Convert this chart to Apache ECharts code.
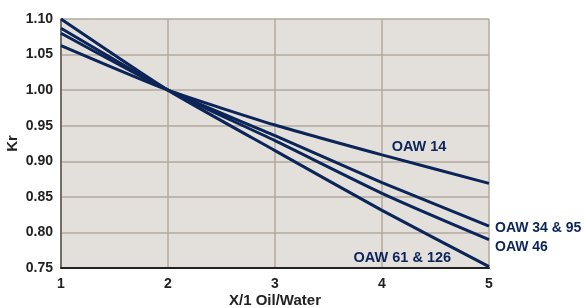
<!DOCTYPE html>
<html>
<head>
<meta charset="utf-8">
<script src="https://cdn.jsdelivr.net/npm/echarts@6/dist/echarts.min.js"></script>
<style>
  html, body { margin: 0; padding: 0; background: #fff; }
  #chart { width: 584px; height: 308px; }
</style>
</head>
<body>
<div id="chart"></div>
<script>
const ratios = [1, 2, 3, 4, 5];
const oaw14 = [1.0625, 1.00, 0.951, 0.909, 0.869];
const oaw3495 = [1.080, 1.00, 0.936, 0.870, 0.809];
const oaw46 = [1.087, 1.00, 0.929, 0.855, 0.790];
const oaw61126 = [1.10, 1.00, 0.915, 0.831, 0.752];

const FONT = "'Liberation Sans', Arial, sans-serif";
const NAVY = "#0b2559";

function pairs(vals) {
  return ratios.map((x, i) => [x, vals[i]]);
}

function lineSeries(name, vals, extra) {
  return Object.assign({
    name: name,
    type: "line",
    data: pairs(vals),
    symbol: "none",
    smooth: 0.2,
    lineStyle: { width: 3, color: NAVY },
    itemStyle: { color: NAVY },
    z: 3,
  }, extra || {});
}

function textPoint(text, coord) {
  return {
    symbol: "rect",
    symbolSize: 1,
    silent: true,
    itemStyle: { color: "rgba(0,0,0,0)" },
    data: [{
      coord: coord,
      label: {
        show: true,
        formatter: text,
        position: "inside",
        color: NAVY,
        fontFamily: FONT,
        fontWeight: "bold",
        fontSize: 14.5,
      },
    }],
  };
}

function endText(text, dy) {
  return {
    show: true,
    formatter: text,
    distance: 6,
    offset: [0, dy],
    color: NAVY,
    fontFamily: FONT,
    fontWeight: "bold",
    fontSize: 14,
  };
}

const chart = echarts.init(document.getElementById("chart"));

chart.setOption({
  animation: false,
  backgroundColor: "#ffffff",
  grid: {
    left: 61,
    right: 95,
    top: 19,
    bottom: 40,
    containLabel: false,
    outerBoundsMode: "none",
    show: true,
    backgroundColor: "#e3e0dc",
    borderWidth: 0,
  },
  xAxis: {
    type: "value",
    min: 1,
    max: 5,
    interval: 1,
    name: "X/1 Oil/Water",
    nameLocation: "middle",
    nameGap: 25,
    nameMoveOverlap: false,
    nameTextStyle: { fontFamily: FONT, fontWeight: "bold", fontSize: 15, color: "#222" },
    axisLine: { show: true, lineStyle: { color: "#222", width: 2 } },
    axisTick: { show: false },
    axisLabel: { fontFamily: FONT, fontWeight: "bold", fontSize: 14, color: "#222", margin: 9 },
    splitLine: { show: true, lineStyle: { color: "#b3aa9e", width: 1.5 } },
  },
  yAxis: {
    type: "value",
    min: 0.75,
    max: 1.10,
    interval: 0.05,
    name: "Kr",
    nameLocation: "middle",
    nameGap: 41,
    nameMoveOverlap: false,
    nameTextStyle: { fontFamily: FONT, fontWeight: "bold", fontSize: 15, color: "#222" },
    axisLine: { show: true, lineStyle: { color: "#555", width: 1.5 } },
    axisTick: { show: false },
    axisLabel: {
      fontFamily: FONT, fontWeight: "bold", fontSize: 14, color: "#222", margin: 8,
      formatter: (v) => v.toFixed(2),
    },
    splitLine: { show: true, lineStyle: { color: "#b3aa9e", width: 1.5 } },
  },
  series: [
    lineSeries("OAW 14", oaw14, { markPoint: textPoint("OAW 14", [4.346, 0.92]) }),
    lineSeries("OAW 34 & 95", oaw3495, { endLabel: endText("OAW 34 & 95", 2) }),
    lineSeries("OAW 46", oaw46, { endLabel: endText("OAW 46", 8) }),
    lineSeries("OAW 61 & 126", oaw61126, { markPoint: textPoint("OAW 61 & 126", [4.19, 0.7636]) }),
  ],
});
</script>
</body>
</html>
